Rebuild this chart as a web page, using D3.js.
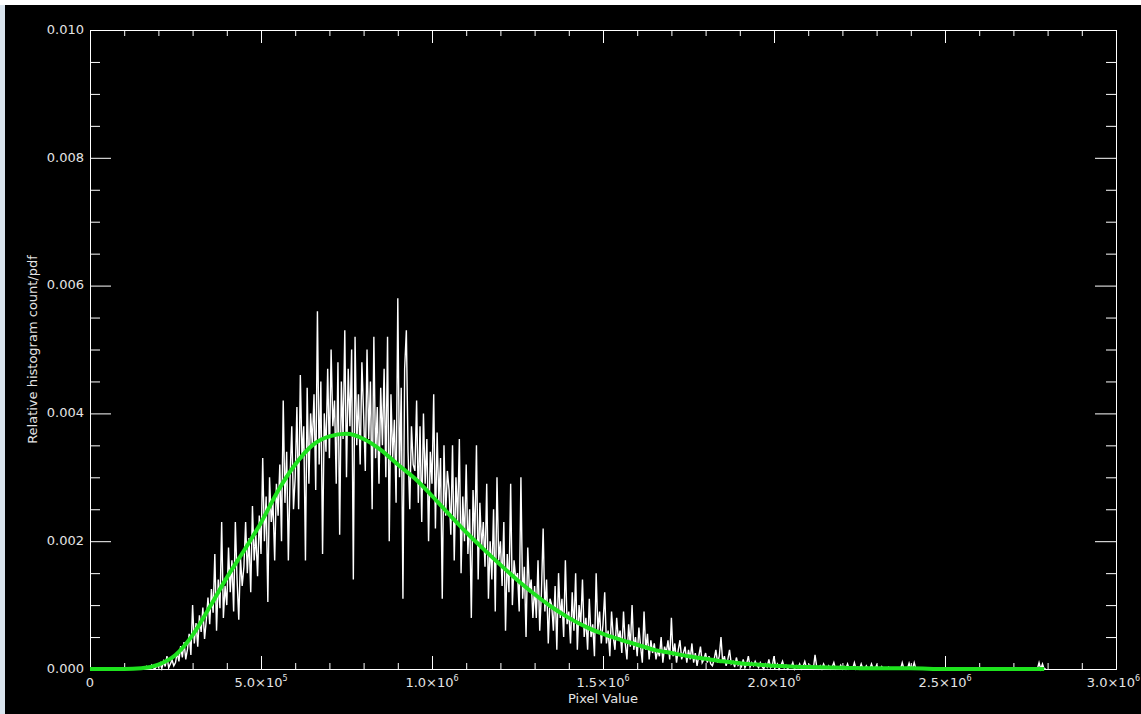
<!DOCTYPE html>
<html>
<head>
<meta charset="utf-8">
<script src="https://cdn.jsdelivr.net/npm/d3@7"></script>
<style>
  html, body { margin: 0; padding: 0; background: #ffffff; }
  svg { display: block; }
</style>
</head>
<body>
<svg id="chart" width="1141" height="714"></svg>
<script>
// Histogram of pixel values: bin width and relative counts (units of 1e-5), bins start at 0
const binWidth = 5000;
const histCountsE5 = [
  0,0,0,0,0,0,0,0,0,0, 0,0,0,0,0,0,0,0,0,0, 0,0,0,0,0,0,0,0,0,0,
  0,2,0,4,1,0,6,2,0,5,
  3,9,1,12,4,20,2,8,14,5,
  10,26,12,36,18,42,15,31,55,22,
  100,40,72,35,84,58,96,47,76,112,
  70,125,88,180,60,140,95,230,80,130,
  100,190,120,170,90,230,140,77,175,130,
  160,230,150,205,120,255,170,210,145,240,
  180,330,200,270,105,300,230,260,170,290,
  240,320,200,420,260,340,170,300,380,250,
  300,410,250,460,330,380,170,440,290,400,
  350,430,280,560,320,450,180,400,340,470,
  330,500,380,420,290,480,210,450,360,530,
  300,470,380,500,140,520,350,430,320,480,
  400,310,500,360,450,250,520,330,410,290,
  440,350,470,300,520,200,430,330,390,260,
  580,300,440,110,470,530,340,250,380,320,
  310,420,260,380,230,400,290,360,200,340,
  290,430,220,370,260,330,110,350,240,310,
  280,210,350,170,300,230,360,150,270,200,
  320,180,250,80,280,200,350,140,260,190,
  230,160,290,110,200,140,250,90,300,170,
  200,130,230,60,180,120,290,100,170,140,
  150,90,300,110,160,50,190,120,140,80,
  130,80,170,60,120,220,90,140,40,110,
  100,60,130,30,150,80,110,50,170,70,
  90,40,120,60,150,30,100,70,140,50,
  80,30,110,50,70,20,150,60,90,40,
  70,120,40,60,20,90,50,30,80,45,
  60,25,90,40,15,70,35,100,30,50,
  20,65,35,10,90,30,55,15,45,25,
  40,15,30,20,50,10,35,25,45,15,
  80,20,40,10,30,45,15,25,35,10,
  30,15,40,10,25,5,20,35,10,15,
  25,10,20,8,5,15,30,10,20,50,
  10,20,5,15,30,8,12,3,18,6,
  10,4,15,2,8,20,3,10,5,12,
  6,2,10,4,0,8,3,15,2,5,
  20,3,8,0,5,12,2,6,0,4,
  3,10,0,5,2,8,0,4,12,2,
  0,6,2,0,22,3,0,5,0,8,
  2,0,5,0,3,10,0,2,0,6,
  0,4,0,8,0,2,0,10,0,3,
  0,8,0,0,5,0,0,8,0,0,
  6,0,0,4,0,0,0,3,0,0,
  0,0,0,0,0,10,0,0,0,9,
  0,0,10,0,0,0,0,0,0,0,
  0,0,0,0,0,0,0,0,0,0, 0,0,0,0,0,0,0,0,0,0,
  0,0,0,0,0,0,0,0,0,0, 0,0,0,0,0,0,0,0,0,0,
  0,0,0,0,0,0,0,0,0,0, 0,0,0,0,0,0,0,0,0,0,
  0,0,0,0,0,10,0,8,0,0
];

// Fitted probability density (units of 1e-5) at selected pixel values
const pdfX = [0,100000,150000,200000,250000,300000,350000,400000,450000,500000,
  550000,600000,650000,700000,750000,800000,850000,900000,950000,1000000,
  1050000,1100000,1150000,1200000,1250000,1300000,1350000,1400000,1450000,1500000,
  1550000,1600000,1650000,1700000,1750000,1800000,1850000,1900000,1950000,2000000,
  2100000,2200000,2300000,2400000,2500000,2600000,2700000,2790000];
const pdfE5 = [0,0,1,7,22,53,97,143,185,229,
  279,320,350,364,368,360,343,320,298,271,
  242,214,188,163,139,117,97,80,66,55,
  46,38,30,25,20,16,12,9,7,5,
  3,2,1,1,0,0,0,0];

// Axis ticks and labels
const xMajorTicks = [0, 500000, 1000000, 1500000, 2000000, 2500000, 3000000];
const xTickMantissas = ["0", "5.0×10", "1.0×10", "1.5×10", "2.0×10", "2.5×10", "3.0×10"];
const xTickExponents = ["", "5", "6", "6", "6", "6", "6"];
const yMajorTicks = [0, 0.002, 0.004, 0.006, 0.008, 0.010];
const yTickLabels = ["0.000", "0.002", "0.004", "0.006", "0.008", "0.010"];
const xTitle = "Pixel Value";
const yTitle = "Relative histogram count/pdf";

const histValues = histCountsE5.map(v => v / 1e5);
const pdfValues = pdfE5.map(v => v / 1e5);

const W = 1141, H = 714;
const plot = { left: 90, right: 1116, top: 30, bottom: 669 };
const FONT = "DejaVu Sans, sans-serif";
const TEXT = "#e4e4e4";

const svg = d3.select("#chart");

// page frame and black canvas
svg.append("rect").attr("width", W).attr("height", H).attr("fill", "#ffffff");
svg.append("rect").attr("x", 0).attr("y", 5).attr("width", 5).attr("height", H - 5).attr("fill", "#d9e4ee");
svg.append("rect").attr("x", 5).attr("y", 5).attr("width", W - 5).attr("height", H - 5).attr("fill", "#000000");

const x = d3.scaleLinear().domain([0, 3000000]).range([plot.left, plot.right]);
const y = d3.scaleLinear().domain([0, 0.010]).range([plot.bottom, plot.top]);

const xMinor = d3.range(0, 3000001, 100000).filter(v => v % 500000 !== 0);
const yMinor = d3.range(0, 0.01001, 0.0005).filter((v, i) => i % 4 !== 0);

function styleAxis(g) {
  g.attr("font-family", FONT).attr("font-size", 13);
  g.select(".domain").attr("stroke", "#ffffff").attr("stroke-width", 1);
  g.selectAll(".tick line").attr("stroke", "#ffffff").attr("stroke-width", 1);
  g.selectAll(".tick text").attr("fill", TEXT);
}

// bottom axis (labels drawn separately for the superscripts)
svg.append("g").attr("transform", `translate(0,${plot.bottom})`)
  .call(d3.axisBottom(x).tickValues(xMajorTicks).tickSize(-13).tickSizeOuter(0).tickFormat(""))
  .call(styleAxis);
svg.append("g").attr("transform", `translate(0,${plot.bottom})`)
  .call(d3.axisBottom(x).tickValues(xMinor).tickSize(-6).tickSizeOuter(0).tickFormat(""))
  .call(styleAxis);

// top axis
svg.append("g").attr("transform", `translate(0,${plot.top})`)
  .call(d3.axisTop(x).tickValues(xMajorTicks).tickSize(-13).tickSizeOuter(0).tickFormat(""))
  .call(styleAxis);
svg.append("g").attr("transform", `translate(0,${plot.top})`)
  .call(d3.axisTop(x).tickValues(xMinor).tickSize(-6).tickSizeOuter(0).tickFormat(""))
  .call(styleAxis);

// left axis
svg.append("g").attr("transform", `translate(${plot.left},0)`)
  .call(d3.axisLeft(y).tickValues(yMajorTicks).tickSize(-21).tickSizeOuter(0).tickPadding(6)
    .tickFormat((d, i) => yTickLabels[i]))
  .call(styleAxis)
  .call(g => g.selectAll(".tick text").attr("dy", "0.25em"));
svg.append("g").attr("transform", `translate(${plot.left},0)`)
  .call(d3.axisLeft(y).tickValues(yMinor).tickSize(-10).tickSizeOuter(0).tickFormat(""))
  .call(styleAxis);

// right axis
svg.append("g").attr("transform", `translate(${plot.right},0)`)
  .call(d3.axisRight(y).tickValues(yMajorTicks).tickSize(-21).tickSizeOuter(0).tickFormat(""))
  .call(styleAxis);
svg.append("g").attr("transform", `translate(${plot.right},0)`)
  .call(d3.axisRight(y).tickValues(yMinor).tickSize(-10).tickSizeOuter(0).tickFormat(""))
  .call(styleAxis);

// x tick labels with exponent superscripts; the last one is kept inside the page edge
const lastTick = xMajorTicks.length - 1;
const xl = svg.append("g").attr("font-family", FONT).attr("fill", TEXT)
  .selectAll("text").data(xMajorTicks).join("text")
  .attr("x", (d, i) => i === lastTick ? W - 1 : x(d))
  .attr("y", plot.bottom + 18)
  .attr("text-anchor", (d, i) => i === lastTick ? "end" : "middle")
  .attr("font-size", 13);
xl.append("tspan").text((d, i) => xTickMantissas[i]);
xl.append("tspan")
  .attr("font-size", 8)
  .attr("dy", -6)
  .text((d, i) => xTickExponents[i]);

// axis titles
svg.append("text")
  .attr("x", (plot.left + plot.right) / 2)
  .attr("y", 703)
  .attr("text-anchor", "middle")
  .attr("font-family", FONT).attr("font-size", 13).attr("fill", TEXT)
  .text(xTitle);
svg.append("text")
  .attr("transform", `translate(37,${(plot.top + plot.bottom) / 2}) rotate(-90)`)
  .attr("text-anchor", "middle")
  .attr("font-family", FONT).attr("font-size", 13).attr("fill", TEXT)
  .text(yTitle);

// histogram trace
const histLine = d3.line()
  .x((d, i) => x(i * binWidth))
  .y(d => y(d));
svg.append("path")
  .datum(histValues)
  .attr("d", histLine)
  .attr("fill", "none")
  .attr("stroke", "#ffffff")
  .attr("stroke-width", 1.4);

// fitted pdf
const pdfLine = d3.line()
  .x((d, i) => x(pdfX[i]))
  .y(d => y(d))
  .curve(d3.curveMonotoneX);
svg.append("path")
  .datum(pdfValues)
  .attr("d", pdfLine)
  .attr("fill", "none")
  .attr("stroke", "#1ee21e")
  .attr("stroke-width", 4)
  .attr("stroke-linejoin", "round");
</script>
</body>
</html>
